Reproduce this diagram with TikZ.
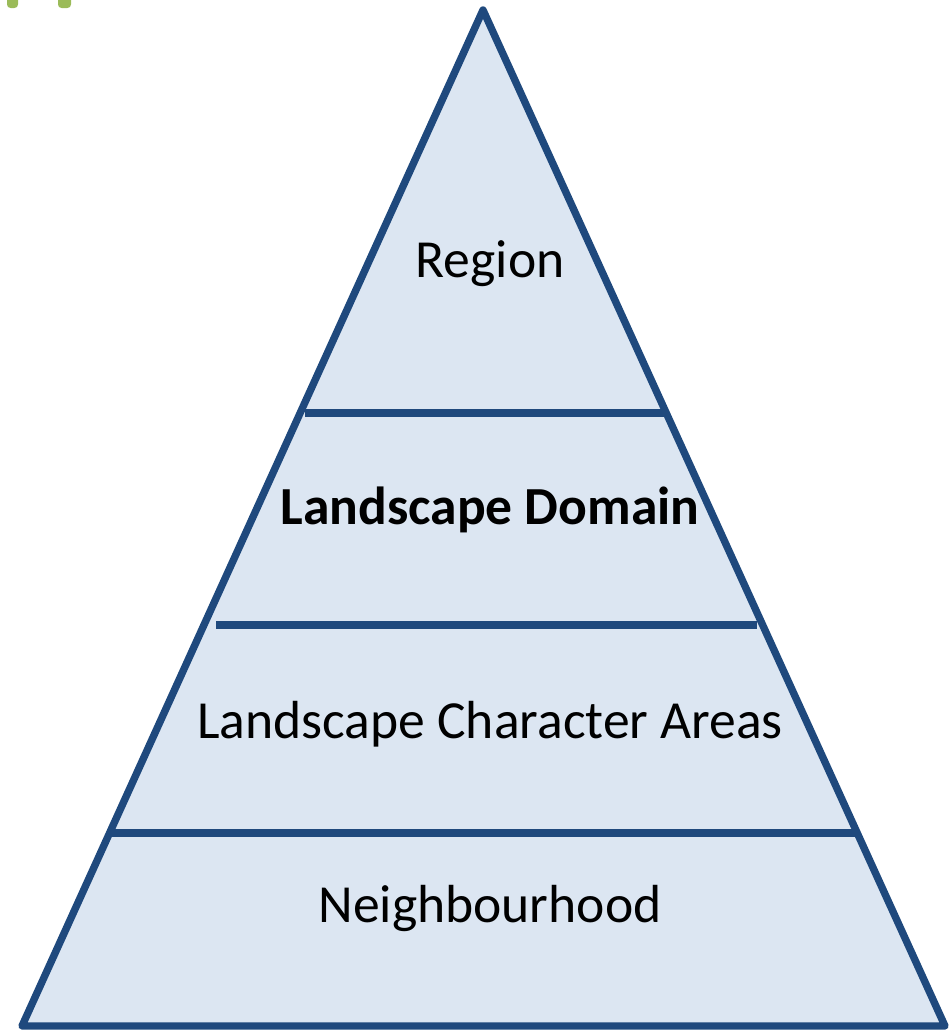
\documentclass[tikz,border=0pt]{standalone}
\usepackage{fontspec}
\setmainfont{Carlito}
\usetikzlibrary{positioning}
\definecolor{tierfill}{HTML}{DCE6F2}
\definecolor{tierline}{HTML}{1F497D}
\definecolor{markgreen}{HTML}{9BBB59}

\begin{document}
\begin{tikzpicture}[x=0.02cm, y=-0.02cm, line join=round,
    edge/.style={draw=tierline, line width=4.2pt},
    tier/.style={font=\fontsize{30.5}{36}\selectfont, text=black}]
  \useasboundingbox (0,0) rectangle (950,1031);
  % corner marks
  \fill[markgreen, rounded corners=2pt] (7,-4) rectangle (18,8);
  \fill[markgreen, rounded corners=2pt] (58,-4) rectangle (71,8);
  % pyramid
  \coordinate (top) at (483,10);
  \coordinate (bl) at (22,1026);
  \coordinate (br) at (945,1026);
  \filldraw[edge, fill=tierfill] (top) -- (br) -- (bl) -- cycle;
  \coordinate (a1) at (305,413);  \coordinate (a2) at (666,413);
  \coordinate (b1) at (216,625);  \coordinate (b2) at (757,625);
  \coordinate (c1) at (109,833);  \coordinate (c2) at (858,833);
  \draw[edge] (a1) -- (a2);
  \draw[edge] (b1) -- (b2);
  \draw[edge] (c1) -- (c2);
  % labels
  \node[tier] (region) at (490,264) {Region};
  \node[tier, font=\fontsize{30.5}{36}\selectfont\bfseries] (domain) at (490,510) {Landscape Domain};
  \node[tier] (areas) at (490,724) {Landscape Character Areas};
  \node[tier] (hood) at (490,908) {Neighbourhood};
\end{tikzpicture}
\end{document}
